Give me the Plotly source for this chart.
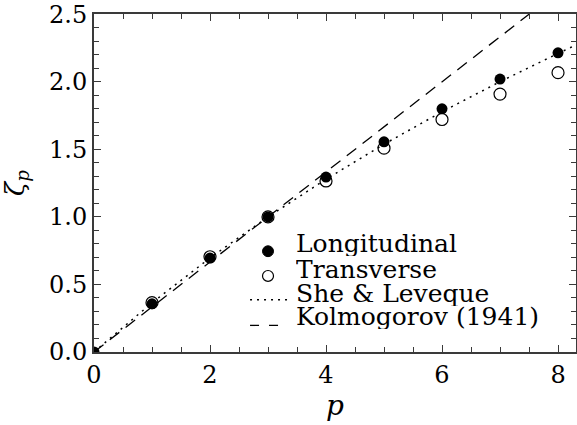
import plotly.graph_objects as go

# Data
p_vals = [0, 1, 2, 3, 4, 5, 6, 7, 8]
zeta_long = [0.0, 0.357, 0.695, 1.0, 1.295, 1.556, 1.80, 2.02, 2.215]
zeta_trans = [None, 0.365, 0.705, 1.0, 1.266, 1.509, 1.721, 1.909, 2.068]

sl_p = [0, 1, 2, 3, 4, 5, 6, 7, 8, 8.3]
sl_zeta = [0.0, 0.364, 0.696, 1.0, 1.279, 1.538, 1.778, 2.001, 2.210, 2.271]

k41_p = [0, 7.5]
k41_zeta = [0.0, 2.5]

x_ticks = [0, 2, 4, 6, 8]
y_ticks = [0.0, 0.5, 1.0, 1.5, 2.0, 2.5]
y_ticktext = ["0.0", "0.5", "1.0", "1.5", "2.0", "2.5"]

legend_labels = ["Longitudinal", "Transverse", "She & Leveque", "Kolmogorov (1941)"]

FONT = "DejaVu Serif"
AX = "#3a3a3a"
XR = [0, 8.31]
YR = [0, 2.502]

fig = go.Figure()
fig.add_trace(go.Scatter(x=k41_p, y=k41_zeta, mode="lines",
                         line=dict(color="black", width=1.3, dash="12px,8px"),
                         showlegend=False))
fig.add_trace(go.Scatter(x=sl_p, y=sl_zeta, mode="lines",
                         line=dict(color="black", width=1.5, dash="2px,5px"),
                         showlegend=False))
fig.add_trace(go.Scatter(x=p_vals, y=zeta_trans, mode="markers",
                         marker=dict(symbol="circle-open", size=12, color="black",
                                     line=dict(width=1.2, color="black")),
                         showlegend=False))
fig.add_trace(go.Scatter(x=p_vals, y=zeta_long, mode="markers",
                         marker=dict(symbol="circle", size=11, color="black"),
                         showlegend=False))
# invisible trace on the mirror axes so they are drawn
fig.add_trace(go.Scatter(x=[None], y=[None], xaxis="x2", yaxis="y2",
                         showlegend=False, hoverinfo="skip"))

# Manual legend (positions in data coordinates)
text_x = 3.45
text_y = [0.804, 0.614, 0.431, 0.263]
for lab, ty in zip(legend_labels, text_y):
    fig.add_annotation(x=text_x, y=ty, xref="x", yref="y", text=lab,
                       showarrow=False, xanchor="left", yanchor="middle",
                       height=25, valign="middle",
                       font=dict(family=FONT, size=25, color="black"))

fig.add_shape(type="circle", xref="x", yref="y",
              x0=3.0 - 5.5/58, x1=3.0 + 5.5/58, y0=0.746 - 5.5/136.8, y1=0.746 + 5.5/136.8,
              fillcolor="black", line=dict(color="black", width=1))
fig.add_shape(type="circle", xref="x", yref="y",
              x0=3.0 - 5.5/58, x1=3.0 + 5.5/58, y0=0.563 - 5.5/136.8, y1=0.563 + 5.5/136.8,
              fillcolor="white", line=dict(color="black", width=1.2))
fig.add_shape(type="line", xref="x", yref="y", x0=2.69, x1=3.33, y0=0.387, y1=0.387,
              line=dict(color="black", width=1.5, dash="2px,5px"))
fig.add_shape(type="line", xref="x", yref="y", x0=2.69, x1=3.24, y0=0.197, y1=0.197,
              line=dict(color="black", width=1.3, dash="9px,10px"))

axis_common = dict(
    showgrid=False, zeroline=False, showline=True, linecolor=AX, linewidth=2,
    ticks="inside", tickcolor=AX, tickwidth=1.2, ticklen=7,
    tickfont=dict(family=FONT, size=24, color="black"),
    ticklabeloverflow="allow",
)

fig.update_layout(
    xaxis=dict(range=XR, tickmode="array", tickvals=x_ticks,
               ticktext=[str(v) for v in x_ticks],
               minor=dict(ticks="inside", ticklen=5, dtick=0.5, tickcolor=AX, tickwidth=1.2),
               title=dict(text="<i>p</i>", font=dict(family=FONT, size=28, color="black"), standoff=4),
               **axis_common),
    yaxis=dict(range=YR, tickmode="array", tickvals=y_ticks, ticktext=y_ticktext,
               minor=dict(ticks="inside", ticklen=5, dtick=0.1, tickcolor=AX, tickwidth=1.2),
               title=dict(text="<i>ζ<sub>p</sub></i>", font=dict(family=FONT, size=26, color="black"), standoff=17),
               **axis_common),
    xaxis2=dict(range=XR, overlaying="x", side="top", anchor="y2", showticklabels=False,
                tickmode="array", tickvals=x_ticks,
                minor=dict(ticks="inside", ticklen=5, dtick=0.5, tickcolor=AX, tickwidth=1.2),
                showgrid=False, zeroline=False, showline=True, linecolor=AX, linewidth=2,
                ticks="inside", tickcolor=AX, tickwidth=1.2, ticklen=7),
    yaxis2=dict(range=YR, overlaying="y", side="right", anchor="x2", showticklabels=False,
                tickmode="array", tickvals=y_ticks,
                minor=dict(ticks="inside", ticklen=5, dtick=0.1, tickcolor=AX, tickwidth=1.2),
                showgrid=False, zeroline=False, showline=True, linecolor=AX, linewidth=2,
                ticks="inside", tickcolor=AX, tickwidth=1.2, ticklen=7),
    width=577, height=425,
    margin=dict(l=94, r=1, t=10, b=73),
    paper_bgcolor="white", plot_bgcolor="white",
    showlegend=False,
)

fig.write_html("out.html")
